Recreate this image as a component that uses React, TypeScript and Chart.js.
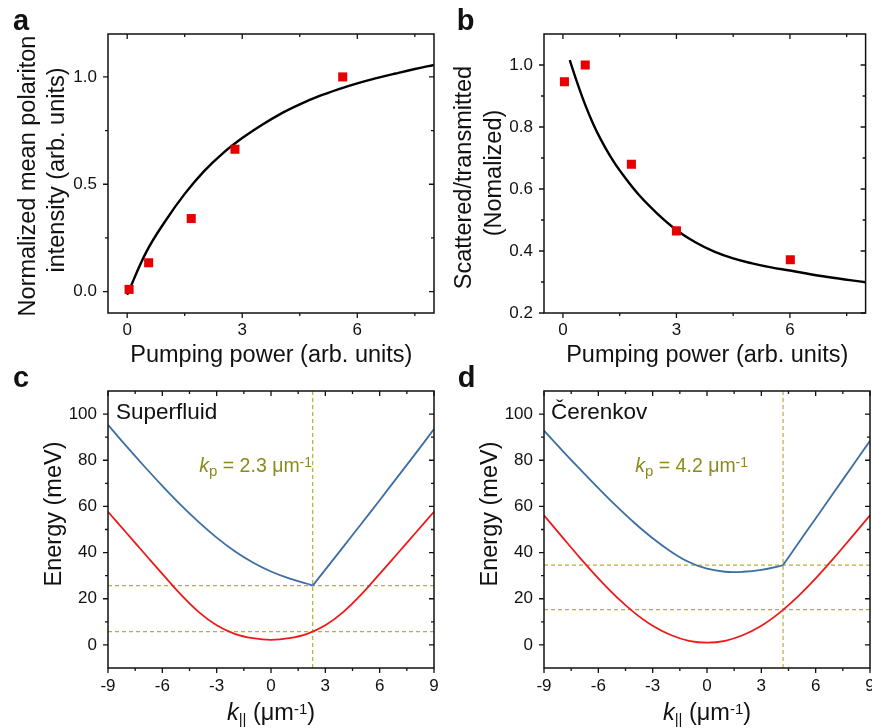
import React, { useEffect, useRef } from "react";
import { Chart, registerables } from "chart.js";

Chart.register(...registerables);

const W = 872;
const H = 728;
const FAMILY = '"Liberation Sans", Arial, Helvetica, sans-serif';
const INK = "#111111";
const OLIVE_TEXT = "#8c8a1c";
const OLIVE_DASH = "#b4b03a";
const RED_LINE = "#ee1a1a";
const RED_MARK = "#e60000";
const BLUE_LINE = "#3c6ea4";

// ---------- panel a ----------
const powerA = [0.05, 0.56, 1.67, 2.81, 5.62];
const intensityA = [0.01, 0.134, 0.34, 0.663, 1.0];
const fitPowerA = [0, 0.5, 1, 1.5, 2, 2.5, 3, 3.5, 4, 4.5, 5, 5.5, 6, 6.5, 7, 7.5, 8];
const fitIntensityA = [-0.015, 0.185, 0.33, 0.455, 0.56, 0.645, 0.715, 0.775, 0.828, 0.872, 0.91, 0.942, 0.97, 0.994, 1.016, 1.037, 1.056];

// ---------- panel b ----------
const powerB = [0.04, 0.59, 1.81, 3.0, 6.01];
const ratioB = [0.946, 1.0, 0.68, 0.465, 0.372];
const fitPowerB = [0.18, 0.4, 0.6, 0.8, 1.0, 1.25, 1.5, 2, 2.5, 3, 3.5, 4, 4.5, 5, 5.5, 6, 7, 8];
const fitRatioB = [1.016, 0.935, 0.868, 0.81, 0.76, 0.706, 0.66, 0.582, 0.52, 0.468, 0.428, 0.398, 0.376, 0.36, 0.347, 0.337, 0.316, 0.299];

// ---------- panel c (Superfluid) ----------
const kpSuperfluid = 2.3;
const levelsSuperfluid = [25.7, 5.75];
const kRedC = [-9, -8, -7, -6, -5, -4, -3, -2, -1, 0, 1, 2, 3, 4, 5, 6, 7, 8, 9];
const eRedC = [57.7, 48.7, 39.7, 30.8, 22.0, 14.3, 8.5, 4.8, 2.9, 2.2, 2.9, 4.8, 8.5, 14.3, 22.0, 30.8, 39.7, 48.7, 57.7];
const kBlueLeftC = [-9, -8, -7, -6, -5, -4, -3, -2, -1, 0, 1, 2, 2.3];
const eBlueLeftC = [95.3, 86.2, 77.4, 68.9, 60.8, 53.3, 46.5, 40.6, 35.7, 31.8, 28.8, 26.5, 25.7];
const kBlueRightC = [2.3, 3, 4, 5, 6, 7, 8, 9];
const eBlueRightC = [25.7, 32.6, 42.6, 52.6, 62.7, 72.9, 83.1, 93.5];

// ---------- panel d (Cerenkov) ----------
const kpCerenkov = 4.2;
const levelsCerenkov = [34.6, 15.3];
const kRedD = [-9, -8, -7, -6, -5, -4, -3, -2, -1, 0, 1, 2, 3, 4, 5, 6, 7, 8, 9];
const eRedD = [56.1, 46.8, 37.6, 28.8, 20.8, 13.9, 8.3, 4.3, 1.8, 1.0, 1.8, 4.3, 8.3, 13.9, 20.8, 28.8, 37.6, 46.8, 56.1];
const kBlueLeftD = [-9, -8, -7, -6, -5, -4, -3, -2, -1, 0, 1, 2, 3, 4, 4.2];
const eBlueLeftD = [92.8, 84.3, 76.0, 67.9, 60.1, 52.8, 46.2, 40.5, 35.9, 33.0, 31.7, 31.7, 32.5, 34.1, 34.6];
const kBlueRightD = [4.2, 5, 6, 7, 8, 9];
const eBlueRightD = [34.6, 43.6, 54.8, 66.0, 77.2, 88.4];

// ---------- axes ----------
const powerRange = [-0.5, 8];
const powerMajor = [0, 3, 6];
const powerMinor = [1.5, 4.5, 7.5];
const intensityRange = [-0.1, 1.2];
const intensityMajor = [0, 0.5, 1.0];
const intensityMinor = [0.25, 0.75];
const ratioRange = [0.2, 1.1];
const ratioMajor = [0.2, 0.4, 0.6, 0.8, 1.0];
const ratioMinor = [0.3, 0.5, 0.7, 0.9];
const kRange = [-9, 9];
const kMajor = [-9, -6, -3, 0, 3, 6, 9];
const kMinor = [-7.5, -4.5, -1.5, 1.5, 4.5, 7.5];
const energyRange = [-10, 110];
const energyMajor = [0, 20, 40, 60, 80, 100];
const energyMinor = [10, 30, 50, 70, 90];

const F = (size: number, style = "normal", weight = "normal") => `${style} ${weight} ${size}px ${FAMILY}`;

const pts = (xs: number[], ys: number[]) => xs.map((x, i) => ({ x, y: ys[i] }));

const markerSet = (xs: number[], ys: number[]) => ({
  data: pts(xs, ys),
  showLine: false,
  pointStyle: "rect",
  pointRadius: 6.4,
  pointHoverRadius: 6.4,
  backgroundColor: RED_MARK,
  borderWidth: 0,
});

const curveSet = (xs: number[], ys: number[], color: string, width: number) => ({
  data: pts(xs, ys),
  showLine: true,
  pointRadius: 0,
  pointHoverRadius: 0,
  borderColor: color,
  backgroundColor: color,
  borderWidth: width,
  tension: 0.4,
  fill: false,
});

const dashSet = (xs: number[], ys: number[]) => ({
  data: pts(xs, ys),
  showLine: true,
  pointRadius: 0,
  pointHoverRadius: 0,
  borderColor: OLIVE_DASH,
  borderWidth: 1.2,
  borderDash: [4, 3],
  tension: 0,
  fill: false,
});

const dispersionSets = (
  kRed: number[], eRed: number[], kBL: number[], eBL: number[], kBR: number[], eBR: number[],
  kp: number, levels: number[]
) => [
  curveSet(kRed, eRed, RED_LINE, 1.8),
  curveSet(kBL, eBL, BLUE_LINE, 1.8),
  curveSet(kBR, eBR, BLUE_LINE, 1.8),
  dashSet([kp, kp], [energyRange[0], energyRange[1]]),
  dashSet([kRange[0], kRange[1]], [levels[0], levels[0]]),
  dashSet([kRange[0], kRange[1]], [levels[1], levels[1]]),
];

type Seg = { t: string; font: string; dy?: number };

const kTitle = (): Seg[] => [
  { t: "k", font: F(23.5, "italic") },
  { t: "||", font: F(15), dy: 4 },
  { t: " (\u03bcm", font: F(23.5) },
  { t: "-1", font: F(15), dy: -6.5 },
  { t: ")", font: F(23.5) },
];

const kpLabel = (kp: number): Seg[] => [
  { t: "k", font: F(19.5, "italic") },
  { t: "p", font: F(15), dy: 3.5 },
  { t: ` = ${kp.toFixed(1)} \u03bcm`, font: F(19.5) },
  { t: "-1", font: F(14), dy: -5.5 },
];

const PANELS: any[] = [
  {
    id: "a",
    area: { left: 108, top: 34, right: 434, bottom: 313 },
    xRange: powerRange, yRange: intensityRange,
    xMajor: powerMajor, xMinor: powerMinor, yMajor: intensityMajor, yMinor: intensityMinor,
    xFmt: (v: number) => String(v), yFmt: (v: number) => v.toFixed(1),
    xPad: 7.5, yPad: 11,
    letter: { t: "a", x: 13, y: 30 },
    yTitles: [
      { t: "Normalized mean polariton", x: 35, y: 176 },
      { t: "intensity (arb. units)", x: 63.5, y: 170 },
    ],
    xTitle: { segs: [{ t: "Pumping power (arb. units)", font: F(23.5) }], x: 271.3, y: 361.7 },
    extras: [],
    datasets: [markerSet(powerA, intensityA), curveSet(fitPowerA, fitIntensityA, "#000000", 2.4)],
  },
  {
    id: "b",
    area: { left: 544, top: 34, right: 870, bottom: 313 },
    xRange: powerRange, yRange: ratioRange,
    xMajor: powerMajor, xMinor: powerMinor, yMajor: ratioMajor, yMinor: ratioMinor,
    xFmt: (v: number) => String(v), yFmt: (v: number) => v.toFixed(1),
    xPad: 7.5, yPad: 11,
    letter: { t: "b", x: 456.7, y: 30 },
    yTitles: [
      { t: "Scattered/transmitted", x: 471, y: 177.5 },
      { t: "(Nomalized)", x: 501, y: 173 },
    ],
    xTitle: { segs: [{ t: "Pumping power (arb. units)", font: F(23.5) }], x: 707.2, y: 361.7 },
    extras: [],
    datasets: [markerSet(powerB, ratioB), curveSet(fitPowerB, fitRatioB, "#000000", 2.4)],
  },
  {
    id: "c",
    area: { left: 108, top: 391, right: 434, bottom: 668 },
    xRange: kRange, yRange: energyRange,
    xMajor: kMajor, xMinor: kMinor, yMajor: energyMajor, yMinor: energyMinor,
    xFmt: (v: number) => String(v), yFmt: (v: number) => String(v),
    xPad: 8, yPad: 11,
    letter: { t: "c", x: 13, y: 387 },
    yTitles: [{ t: "Energy (meV)", x: 61, y: 514 }],
    xTitle: { segs: kTitle(), x: 271, y: 720 },
    extras: [
      { segs: [{ t: "Superfluid", font: F(22.5) }], x: 116, y: 419, color: INK },
      { segs: kpLabel(kpSuperfluid), x: 199.3, y: 472, color: OLIVE_TEXT },
    ],
    datasets: dispersionSets(kRedC, eRedC, kBlueLeftC, eBlueLeftC, kBlueRightC, eBlueRightC, kpSuperfluid, levelsSuperfluid),
  },
  {
    id: "d",
    area: { left: 544, top: 391, right: 870, bottom: 668 },
    xRange: kRange, yRange: energyRange,
    xMajor: kMajor, xMinor: kMinor, yMajor: energyMajor, yMinor: energyMinor,
    xFmt: (v: number) => String(v), yFmt: (v: number) => String(v),
    xPad: 8, yPad: 11,
    letter: { t: "d", x: 457.7, y: 387 },
    yTitles: [{ t: "Energy (meV)", x: 497, y: 514 }],
    xTitle: { segs: kTitle(), x: 707, y: 720 },
    extras: [
      { segs: [{ t: "\u010cerenkov", font: F(22.5) }], x: 551, y: 419, color: INK },
      { segs: kpLabel(kpCerenkov), x: 635.3, y: 472, color: OLIVE_TEXT },
    ],
    datasets: dispersionSets(kRedD, eRedD, kBlueLeftD, eBlueLeftD, kBlueRightD, eBlueRightD, kpCerenkov, levelsCerenkov),
  },
];

function drawRich(ctx: CanvasRenderingContext2D, segs: Seg[], x: number, y: number, align: "left" | "center") {
  let total = 0;
  for (const s of segs) {
    ctx.font = s.font;
    total += ctx.measureText(s.t).width;
  }
  let cx = align === "center" ? x - total / 2 : x;
  ctx.textAlign = "left";
  ctx.textBaseline = "alphabetic";
  for (const s of segs) {
    ctx.font = s.font;
    ctx.fillText(s.t, cx, y + (s.dy || 0));
    cx += ctx.measureText(s.t).width;
  }
}

function decorPlugin(p: any) {
  return {
    id: "decor" + p.id,
    afterDatasetsDraw(chart: any) {
      const ctx: CanvasRenderingContext2D = chart.ctx;
      const { left, right, top, bottom } = chart.chartArea;
      const xs = chart.scales.x;
      const ys = chart.scales.y;
      ctx.save();
      ctx.strokeStyle = INK;
      ctx.lineWidth = 1.5;
      ctx.strokeRect(left, top, right - left, bottom - top);
      ctx.lineWidth = 1.3;
      const xTick = (v: number, len: number) => {
        const px = xs.getPixelForValue(v);
        ctx.beginPath();
        ctx.moveTo(px, bottom);
        ctx.lineTo(px, bottom + len);
        ctx.moveTo(px, top);
        ctx.lineTo(px, top + len);
        ctx.stroke();
      };
      const yTick = (v: number, len: number) => {
        const py = ys.getPixelForValue(v);
        ctx.beginPath();
        ctx.moveTo(left, py);
        ctx.lineTo(left - len, py);
        ctx.moveTo(right, py);
        ctx.lineTo(right - len, py);
        ctx.stroke();
      };
      p.xMajor.forEach((v: number) => xTick(v, 5));
      p.xMinor.forEach((v: number) => xTick(v, 3));
      p.yMajor.forEach((v: number) => yTick(v, 5));
      p.yMinor.forEach((v: number) => yTick(v, 3));
      ctx.restore();
    },
    afterDraw(chart: any) {
      const ctx: CanvasRenderingContext2D = chart.ctx;
      ctx.save();
      ctx.fillStyle = INK;
      ctx.font = F(29, "normal", "bold");
      ctx.textAlign = "left";
      ctx.textBaseline = "alphabetic";
      ctx.fillText(p.letter.t, p.letter.x, p.letter.y);
      for (const yt of p.yTitles) {
        ctx.save();
        ctx.translate(yt.x, yt.y);
        ctx.rotate(-Math.PI / 2);
        ctx.font = F(23.5);
        ctx.textAlign = "center";
        ctx.textBaseline = "alphabetic";
        ctx.fillText(yt.t, 0, 0);
        ctx.restore();
      }
      drawRich(ctx, p.xTitle.segs, p.xTitle.x, p.xTitle.y, "center");
      for (const ex of p.extras) {
        ctx.fillStyle = ex.color;
        drawRich(ctx, ex.segs, ex.x, ex.y, "left");
      }
      ctx.restore();
    },
  };
}

function buildChart(canvas: HTMLCanvasElement, p: any) {
  const yW = 100;
  const xH = 60;
  const tickFont = { family: FAMILY, size: 17 };
  return new Chart(canvas, {
    type: "scatter",
    data: { datasets: p.datasets },
    options: {
      animation: false,
      responsive: false,
      devicePixelRatio: 1,
      events: [],
      layout: {
        padding: {
          left: p.area.left - yW,
          top: p.area.top,
          right: W - p.area.right,
          bottom: H - p.area.bottom - xH,
        },
      },
      plugins: { legend: { display: false }, tooltip: { enabled: false } },
      scales: {
        x: {
          type: "linear",
          position: "bottom",
          min: p.xRange[0],
          max: p.xRange[1],
          grid: { display: false, drawTicks: false },
          border: { display: false },
          ticks: {
            autoSkip: false,
            maxRotation: 0,
            padding: p.xPad,
            color: INK,
            font: tickFont,
            callback: (v: any) => p.xFmt(Number(v)),
          },
          afterBuildTicks: (s: any) => {
            s.ticks = p.xMajor.map((v: number) => ({ value: v }));
          },
          afterFit: (s: any) => {
            s.height = xH;
            s.paddingLeft = 0;
            s.paddingRight = 0;
          },
        },
        y: {
          type: "linear",
          position: "left",
          min: p.yRange[0],
          max: p.yRange[1],
          grid: { display: false, drawTicks: false },
          border: { display: false },
          ticks: {
            autoSkip: false,
            padding: p.yPad,
            color: INK,
            font: tickFont,
            callback: (v: any) => p.yFmt(Number(v)),
          },
          afterBuildTicks: (s: any) => {
            s.ticks = p.yMajor.map((v: number) => ({ value: v }));
          },
          afterFit: (s: any) => {
            s.width = yW;
            s.paddingTop = 0;
            s.paddingBottom = 0;
          },
        },
      },
    } as any,
    plugins: [decorPlugin(p)],
  } as any);
}

export default function App() {
  const refs = useRef<(HTMLCanvasElement | null)[]>([]);
  useEffect(() => {
    const charts = PANELS.map((p, i) => buildChart(refs.current[i] as HTMLCanvasElement, p));
    return () => charts.forEach((c) => c.destroy());
  }, []);
  return (
    <div style={{ position: "absolute", left: 0, top: 0, width: W, height: H, background: "#ffffff" }}>
      {PANELS.map((p, i) => (
        <canvas
          key={p.id}
          ref={(el) => {
            refs.current[i] = el;
          }}
          width={W}
          height={H}
          style={{ position: "absolute", left: 0, top: 0, width: W, height: H }}
        />
      ))}
    </div>
  );
}
